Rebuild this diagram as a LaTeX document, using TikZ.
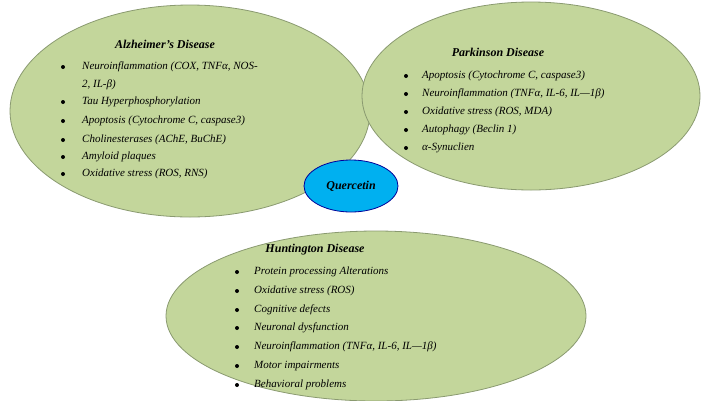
\documentclass[tikz,border=0pt]{standalone}
\usepackage{fontspec}
\setmainfont{Liberation Serif}
\usetikzlibrary{shapes.geometric}
\begin{document}
\begin{tikzpicture}[x=1pt,y=-1pt,
  itm/.style={anchor=west,inner sep=0pt,font=\fontsize{11}{13}\selectfont\itshape},
  ttl/.style={inner sep=0pt,font=\fontsize{12}{14}\selectfont\bfseries\itshape},
  bul/.style={circle,fill=black,inner sep=0pt,minimum size=4pt}]
\useasboundingbox (0,0) rectangle (708,400);
\definecolor{gfill}{HTML}{C3D69B}
\definecolor{gline}{HTML}{8A9A70}
\tikzset{blob/.style={draw=gline,line width=0.8pt,fill=gfill}}
\node[blob,ellipse,minimum width=360,minimum height=212] (ad) at (190,111) {};
\node[blob,ellipse,minimum width=338,minimum height=188] (pd) at (531,96) {};
\node[blob,ellipse,minimum width=420,minimum height=170] (hd) at (376,316) {};
\node[ellipse,draw=blue!60!black,line width=0.8pt,fill={rgb,255:red,0;green,176;blue,240},minimum width=94,minimum height=52] (q) at (351,186) {};
\node[ttl] at (q) {Quercetin};
\node[ttl] (adt) at (165,44) {Alzheimer’s Disease};
\node[ttl] (pdt) at (498,52) {Parkinson Disease};
\node[ttl] (hdt) at (315,250) {Huntington Disease};
\foreach \y/\t [count=\i] in {67/{Neuroinflammation (COX, TNFα, NOS-},102/{Tau Hyperphosphorylation},121/{Apoptosis (Cytochrome C, caspase3)},140/{Cholinesterases (AChE, BuChE)},157/{Amyloid plaques},174/{Oxidative stress (ROS, RNS)}}{
  \node[bul] (ab\i) at (63,\y) {};
  \node[itm] (a\i) at (82,\y) {\t};}
\node[itm] (a1b) at (82,85) {2, IL-β)};
\foreach \y/\t [count=\i] in {76/{Apoptosis (Cytochrome C, caspase3)},94/{Neuroinflammation (TNFα, IL-6, IL—1β)},112/{Oxidative stress (ROS, MDA)},130/{Autophagy (Beclin 1)},148/{α-Synuclien}}{
  \node[bul] (pb\i) at (406,\y) {};
  \node[itm] (p\i) at (422,\y) {\t};}
\foreach \y/\t [count=\i] in {272/{Protein processing Alterations},291/{Oxidative stress (ROS)},310/{Cognitive defects},328/{Neuronal dysfunction},347/{Neuroinflammation (TNFα, IL-6, IL—1β)},366/{Motor impairments},385/{Behavioral problems}}{
  \node[bul] (hb\i) at (237,\y) {};
  \node[itm] (h\i) at (254,\y) {\t};}
\end{tikzpicture}
\end{document}
